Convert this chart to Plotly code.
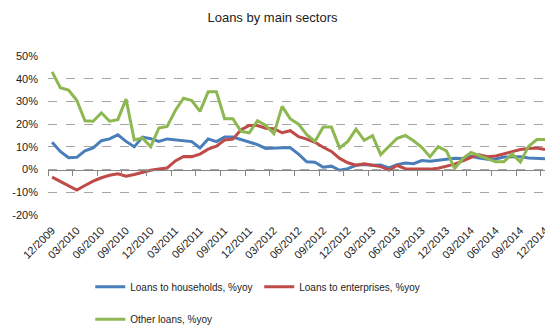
import plotly.graph_objects as go

tick_labels = ["12/2009", "03/2010", "06/2010", "09/2010", "12/2010", "03/2011", "06/2011",
               "09/2011", "12/2011", "03/2012", "06/2012", "09/2012", "12/2012", "03/2013",
               "06/2013", "09/2013", "12/2013", "03/2014", "06/2014", "09/2014", "12/2014"]

y_ticks = [-20, -10, 0, 10, 20, 30, 40, 50]
y_tick_labels = ["-20%", "-10%", "0%", "10%", "20%", "30%", "40%", "50%"]

households = [12, 8, 5.2, 5.4, 8.3, 9.5, 12.7, 13.5, 15.3, 12.4,
              10, 14.3, 13.6, 12.4, 13.5, 13.2, 12.7, 12.3, 9.5, 13.5,
              12.3, 14.3, 14.3, 13.2, 12, 11, 9.3, 9.6, 9.6, 9.6,
              6.8, 3.4, 3.2, 1, 1.5, -0.3, 0.4, 1.9, 2.2, 1.9,
              2, 0.7, 2.2, 2.9, 2.6, 4, 3.7, 4.1, 4.4, 5,
              4.9, 5.8, 5.1, 4.5, 4.7, 5.5, 5.6, 5.6, 5.1, 4.9, 4.8]

enterprises = [-3.3, -5.3, -7.2, -9, -7, -5.1, -3.6, -2.5, -1.9, -2.9,
               -2.2, -1.2, -0.3, 0.3, 0.7, 3.8, 5.8, 5.7, 6.8, 9,
               10.3, 13, 13.4, 17.5, 19.4, 19.4, 18.2, 18, 16.2, 17.1,
               14.5, 13.4, 12, 9.8, 8, 4.9, 3, 1.9, 2.5, 1.9,
               1.3, -0.2, 1.8, 0.4, 0.4, 0.3, 0.2, 0.6, 1.5, 2.4,
               3.8, 5.4, 6.5, 5.7, 6, 6.9, 7.7, 8.8, 9.3, 9.5, 8.8]

other = [43, 36, 35, 30.5, 21.5, 21.3, 25, 21.3, 22, 31,
         13, 13.9, 10, 18.3, 19, 26, 31.4, 30.4, 25.6, 34.3,
         34.3, 22.4, 22.4, 16.8, 16.2, 21.5, 19.4, 15.8, 27.8, 22.3,
         20, 15.4, 12.4, 18.7, 18.7, 9.5, 12.4, 17.8, 12.9, 14.9,
         6.6, 10.1, 13.8, 15, 12.7, 9.8, 5.7, 10.1, 8.2, 0.5,
         4.8, 7.5, 6.1, 5, 3.4, 3.4, 6.9, 3.3, 10.2, 13.2, 13.2]

x = list(range(len(households)))
tickvals = [i * 3 - 0.5 for i in range(len(tick_labels))]

FONT = "Liberation Sans, Arial, sans-serif"
TXT = "#222222"
FS = 11
LFS = 10

fig = go.Figure()
fig.add_trace(go.Scatter(x=x, y=households, mode="lines", name="Loans to households, %yoy",
                         line=dict(color="#4A7EBB", width=3), legend="legend"))
fig.add_trace(go.Scatter(x=x, y=enterprises, mode="lines", name="Loans to enterprises, %yoy",
                         line=dict(color="#BE4B48", width=3), legend="legend"))
fig.add_trace(go.Scatter(x=x, y=other, mode="lines", name="Other loans, %yoy",
                         line=dict(color="#8DB750", width=3), legend="legend2"))
fig.add_trace(go.Scatter(x=[None], y=[None], xaxis="x2", showlegend=False, hoverinfo="skip"))

xr = [-0.5, 60.0]
fig.update_layout(
    template="none",
    width=545, height=327,
    margin=dict(l=48, r=0, t=56, b=112, autoexpand=False),
    paper_bgcolor="white", plot_bgcolor="white",
    font=dict(family=FONT, size=FS, color=TXT),
    title=dict(text="Loans by main sectors", x=0.5, xref="container", xanchor="center",
               y=1 - 17 / 327, yref="container", yanchor="middle",
               font=dict(size=13, color=TXT)),
    xaxis=dict(range=xr, tickvals=tickvals, ticktext=tick_labels, tickangle=-45,
               ticks="", showgrid=False, showline=False, zeroline=False, automargin=False,
               ticklabelshift=4, ticklabelstandoff=6, ticklabeloverflow="allow",
               tickfont=dict(size=FS, color=TXT)),
    xaxis2=dict(range=xr, overlaying="x", anchor="free", position=20 / 70, side="bottom",
                tickvals=tickvals, showticklabels=False, ticks="outside", ticklen=5,
                tickcolor="#868686", showline=True, linecolor="#868686", linewidth=1,
                showgrid=False, zeroline=False, automargin=False),
    yaxis=dict(range=[-20, 50], tickvals=y_ticks, ticktext=y_tick_labels,
               showgrid=True, gridcolor="#A6A6A6", griddash="dash",
               gridwidth=1, zeroline=False, showline=False, ticks="", automargin=False,
               ticklabelstandoff=9, tickfont=dict(size=FS, color=TXT)),
    legend=dict(orientation="h", x=0.085, y=-0.36, xanchor="left", yanchor="top",
                itemwidth=30, entrywidth=124, font=dict(size=LFS, color=TXT),
                bgcolor="rgba(0,0,0,0)"),
    legend2=dict(orientation="h", x=0.085, y=-0.565, xanchor="left", yanchor="top",
                 itemwidth=30, font=dict(size=LFS, color=TXT), bgcolor="rgba(0,0,0,0)"),
)

fig.write_html("out.html")
